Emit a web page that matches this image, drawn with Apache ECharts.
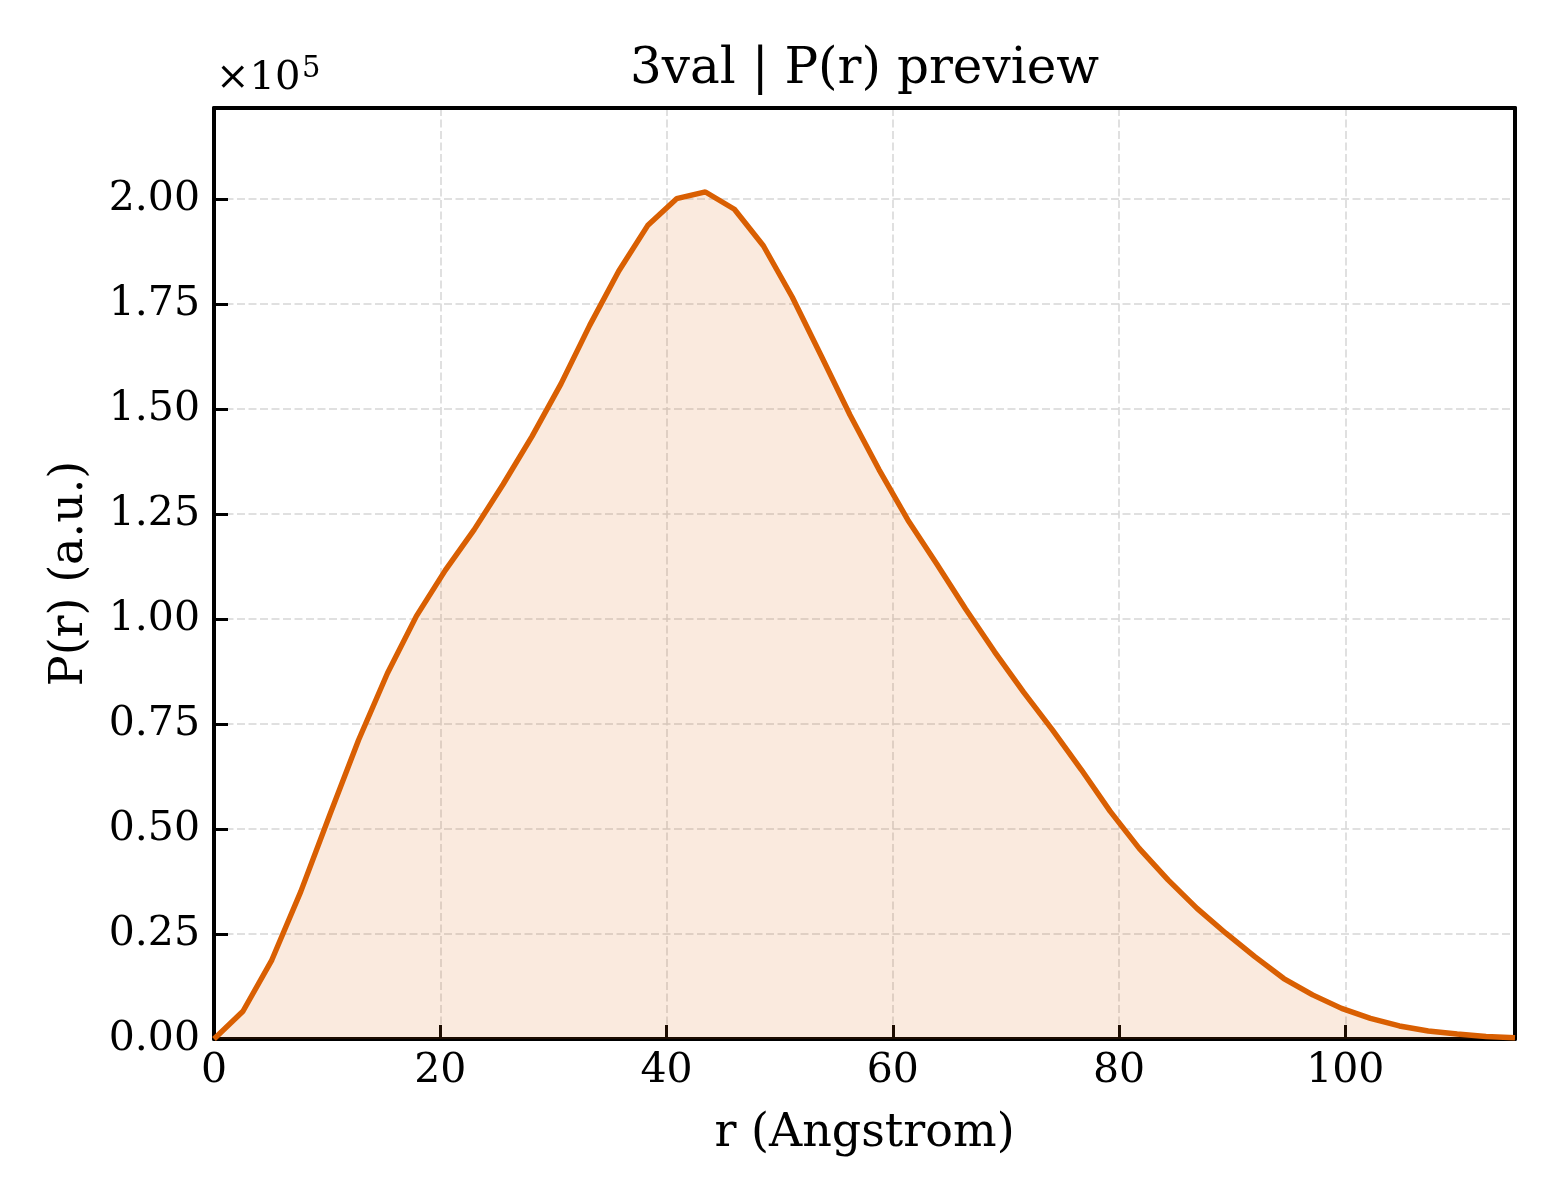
<!DOCTYPE html>
<html>
<head>
<meta charset="utf-8">
<script src="https://cdn.jsdelivr.net/npm/echarts@6/dist/echarts.min.js"></script>
<style>
  html, body { margin: 0; padding: 0; background: #ffffff; }
  #chart { width: 1560px; height: 1200px; }
</style>
</head>
<body>
<div id="chart"></div>
<script>
// ---- data ----
const chartTitle = '3val | P(r) preview';
const xAxisTitle = 'r (Angstrom)';
const yAxisTitle = 'P(r) (a.u.)';
const rValues = [0, 2.56, 5.11, 7.67, 10.22, 12.78, 15.33, 17.89, 20.44, 23.0,
  25.56, 28.11, 30.67, 33.22, 35.78, 38.33, 40.89, 43.44, 46.0, 48.56,
  51.11, 53.67, 56.22, 58.78, 61.33, 63.89, 66.44, 69.0, 71.56, 74.11,
  76.67, 79.22, 81.78, 84.33, 86.89, 89.44, 92.0, 94.56, 97.11, 99.67,
  102.22, 104.78, 107.33, 109.89, 112.44, 115.0];
const prValues = [0, 6600, 18800, 35100, 53300, 71200, 87100, 100700, 111600, 121300,
  132100, 143500, 156000, 170000, 182900, 193700, 200100, 201700, 197600, 188900,
  176700, 162700, 148600, 135600, 123600, 113100, 102400, 92200, 82600, 73600,
  64100, 54200, 45400, 37900, 31100, 25200, 19600, 14400, 10500, 7300,
  4900, 3100, 1900, 1200, 600, 300];
const xTicks = [0, 20, 40, 60, 80, 100];
const yTicks = [0, 25000, 50000, 75000, 100000, 125000, 150000, 175000, 200000];
const yScaleExp = 5;

const FONT = 'DejaVu Serif';
const lineColor = '#d95f02';
const X_MIN = 0, X_MAX = 115, Y_MIN = 0, Y_MAX = 221700;

const chart = echarts.init(document.getElementById('chart'), null, { renderer: 'canvas' });

const seriesData = rValues.map((r, i) => [r, prValues[i]]);
const div = Math.pow(10, yScaleExp);

const gridSplit = { show: true, lineStyle: { color: '#d6d6d6', width: 1.5, type: [8, 3.5] } };
const frameLine = { show: true, onZero: false, lineStyle: { color: '#000', width: 4 } };

chart.setOption({
  backgroundColor: '#ffffff',
  animation: false,
  grid: { left: 214, right: 45, top: 108, bottom: 161, show: false },
  xAxis: [{
    type: 'value',
    min: X_MIN, max: X_MAX, interval: 20,
    name: xAxisTitle,
    nameLocation: 'middle',
    nameGap: 72,
    nameTextStyle: { fontFamily: FONT, fontSize: 46, color: '#000' },
    axisLine: frameLine,
    axisTick: { show: true, inside: true, length: 14, lineStyle: { color: '#000', width: 3 } },
    axisLabel: {
      fontFamily: FONT, fontSize: 41, color: '#000', margin: 12,
      formatter: v => xTicks.indexOf(v) >= 0 ? String(v) : ''
    },
    splitLine: gridSplit
  }, {
    type: 'value', position: 'top',
    min: X_MIN, max: X_MAX, interval: 20,
    axisLine: frameLine,
    axisTick: { show: false }, axisLabel: { show: false }, splitLine: { show: false }
  }],
  yAxis: [{
    type: 'value',
    min: Y_MIN, max: Y_MAX, interval: 25000,
    name: yAxisTitle,
    nameLocation: 'middle',
    nameGap: 121,
    nameTextStyle: { fontFamily: FONT, fontSize: 46, color: '#000' },
    axisLine: frameLine,
    axisTick: { show: true, inside: true, length: 14, lineStyle: { color: '#000', width: 3 } },
    axisLabel: {
      fontFamily: FONT, fontSize: 41, color: '#000', margin: 14,
      formatter: v => yTicks.indexOf(v) >= 0 ? (v / div).toFixed(2) : ''
    },
    splitLine: gridSplit
  }, {
    type: 'value', position: 'right',
    min: Y_MIN, max: Y_MAX, interval: 25000,
    axisLine: frameLine,
    axisTick: { show: false }, axisLabel: { show: false }, splitLine: { show: false }
  }],
  graphic: [
    {
      type: 'text', x: 864.5, y: 70,
      style: { text: chartTitle, fontFamily: FONT, fontSize: 50, fill: '#000',
               align: 'center', verticalAlign: 'middle' }
    },
    {
      type: 'text', left: 216, top: 59,
      style: { text: '×10', fontFamily: FONT, fontSize: 40, fill: '#000' }
    },
    {
      type: 'text', left: 302, top: 55,
      style: { text: String(yScaleExp), fontFamily: FONT, fontSize: 29, fill: '#000' }
    }
  ],
  series: [{
    type: 'line',
    xAxisIndex: 0, yAxisIndex: 0,
    data: seriesData,
    symbol: 'none',
    smooth: false,
    lineStyle: { color: lineColor, width: 5.4 },
    itemStyle: { color: lineColor },
    areaStyle: { color: lineColor, opacity: 0.13 }
  }]
});
</script>
</body>
</html>
